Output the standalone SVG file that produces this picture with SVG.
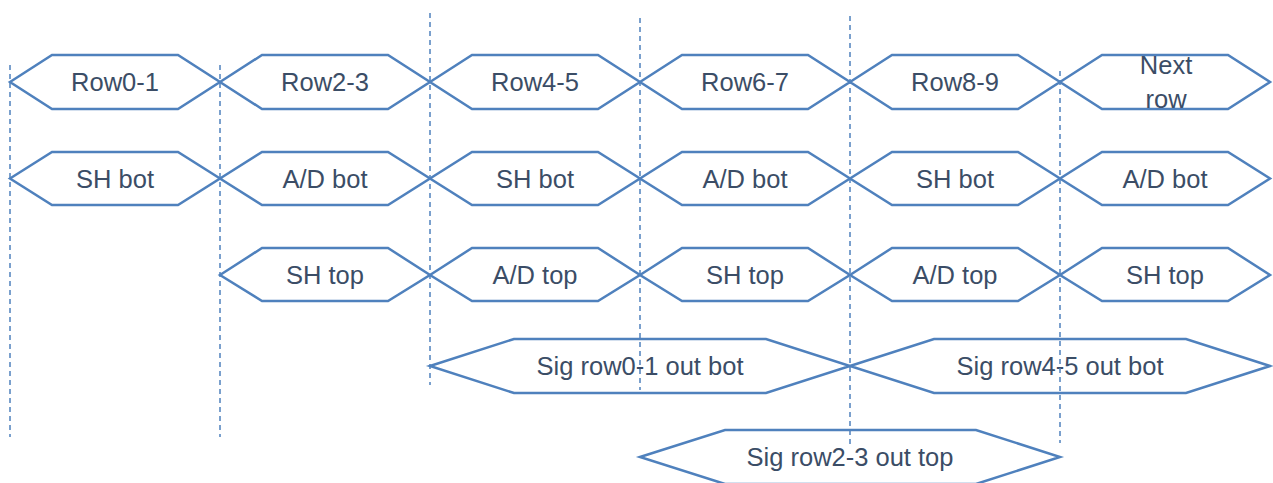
<svg xmlns="http://www.w3.org/2000/svg" width="1273" height="483" viewBox="0 0 1273 483">
<style>
.hex{fill:#FFFFFF;stroke:#4F81BD;stroke-width:2.5;stroke-linejoin:miter}
.lbl{font-family:"Liberation Sans",Arial,sans-serif;font-size:25.5px;fill:#3B4D66;text-anchor:middle}
.guide{stroke:#4F81BD;stroke-width:1.5;stroke-dasharray:5 4;fill:none}
</style>
<rect width="1273" height="483" fill="#FFFFFF"/>
<g id="row1">
<g id="n-row01"><polygon class="hex" points="10,82 52,55 178,55 220,82 178,109 52,109"/><text class="lbl" x="115" y="91">Row0-1</text></g>
<g id="n-row23"><polygon class="hex" points="220,82 262,55 388,55 430,82 388,109 262,109"/><text class="lbl" x="325" y="91">Row2-3</text></g>
<g id="n-row45"><polygon class="hex" points="430,82 472,55 598,55 640,82 598,109 472,109"/><text class="lbl" x="535" y="91">Row4-5</text></g>
<g id="n-row67"><polygon class="hex" points="640,82 682,55 808,55 850,82 808,109 682,109"/><text class="lbl" x="745" y="91">Row6-7</text></g>
<g id="n-row89"><polygon class="hex" points="850,82 892,55 1018,55 1060,82 1018,109 892,109"/><text class="lbl" x="955" y="91">Row8-9</text></g>
<g id="n-next"><polygon class="hex" points="1060,82 1102,55 1228,55 1270,82 1228,109 1102,109"/><text class="lbl" x="1166" y="74">Next</text><text class="lbl" x="1166" y="108">row</text></g>
</g>
<g id="row2">
<g id="n-shbot1"><polygon class="hex" points="10,178.5 52,152 178,152 220,178.5 178,205 52,205"/><text class="lbl" x="115" y="188">SH bot</text></g>
<g id="n-adbot1"><polygon class="hex" points="220,178.5 262,152 388,152 430,178.5 388,205 262,205"/><text class="lbl" x="325" y="188">A/D bot</text></g>
<g id="n-shbot2"><polygon class="hex" points="430,178.5 472,152 598,152 640,178.5 598,205 472,205"/><text class="lbl" x="535" y="188">SH bot</text></g>
<g id="n-adbot2"><polygon class="hex" points="640,178.5 682,152 808,152 850,178.5 808,205 682,205"/><text class="lbl" x="745" y="188">A/D bot</text></g>
<g id="n-shbot3"><polygon class="hex" points="850,178.5 892,152 1018,152 1060,178.5 1018,205 892,205"/><text class="lbl" x="955" y="188">SH bot</text></g>
<g id="n-adbot3"><polygon class="hex" points="1060,178.5 1102,152 1228,152 1270,178.5 1228,205 1102,205"/><text class="lbl" x="1165" y="188">A/D bot</text></g>
</g>
<g id="row3">
<g id="n-shtop1"><polygon class="hex" points="220,275 262,248 388,248 430,275 388,301 262,301"/><text class="lbl" x="325" y="284">SH top</text></g>
<g id="n-adtop1"><polygon class="hex" points="430,275 472,248 598,248 640,275 598,301 472,301"/><text class="lbl" x="535" y="284">A/D top</text></g>
<g id="n-shtop2"><polygon class="hex" points="640,275 682,248 808,248 850,275 808,301 682,301"/><text class="lbl" x="745" y="284">SH top</text></g>
<g id="n-adtop2"><polygon class="hex" points="850,275 892,248 1018,248 1060,275 1018,301 892,301"/><text class="lbl" x="955" y="284">A/D top</text></g>
<g id="n-shtop3"><polygon class="hex" points="1060,275 1102,248 1228,248 1270,275 1228,301 1102,301"/><text class="lbl" x="1165" y="284">SH top</text></g>
</g>
<g id="row4">
<g id="n-sig01"><polygon class="hex" points="430,366 514,339 766,339 850,366 766,393 514,393"/><text class="lbl" x="640" y="375">Sig row0-1 out bot</text></g>
<g id="n-sig45"><polygon class="hex" points="850,366 934,339 1186,339 1270,366 1186,393 934,393"/><text class="lbl" x="1060" y="375">Sig row4-5 out bot</text></g>
</g>
<g id="row5">
<g id="n-sig23"><polygon class="hex" points="640,457 725,430 976,430 1060,457 976,484 725,484"/><text class="lbl" x="850" y="466">Sig row2-3 out top</text></g>
</g>
<g id="connectors">
<line class="guide" x1="10" y1="65" x2="10" y2="437"/>
<line class="guide" x1="220" y1="65" x2="220" y2="437"/>
<line class="guide" x1="430" y1="13" x2="430" y2="385"/>
<line class="guide" x1="640" y1="18" x2="640" y2="390"/>
<line class="guide" x1="850" y1="16" x2="850" y2="447"/>
<line class="guide" x1="1060" y1="71" x2="1060" y2="443"/>
</g>
</svg>
